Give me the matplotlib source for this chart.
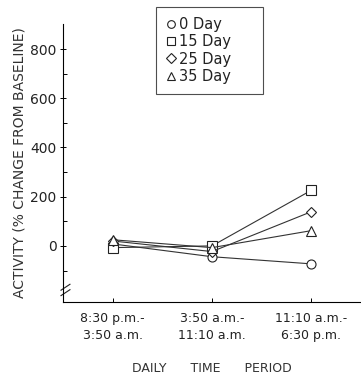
import matplotlib
matplotlib.use("Agg")
from matplotlib import pyplot as plt

periods = ["8:30 p.m.-\n3:50 a.m.", "3:50 a.m.-\n11:10 a.m.", "11:10 a.m.-\n6:30 p.m."]
day_0 = [8, -44, -73]
day_15 = [-7, 0, 226]
day_25 = [20, -23, 139]
day_35 = [25, -7, 62]

series = [("0 Day", day_0, "o"), ("15 Day", day_15, "s"),
          ("25 Day", day_25, "D"), ("35 Day", day_35, "^")]

plt.rcParams['font.family'] = ['DejaVu Sans']
fig = plt.figure(figsize=(3.61, 3.74), dpi=100)
ax = fig.add_axes([0.1745, 0.1925, 0.8255, 0.7435])

x = list(range(len(periods)))
for label, vals, m in series:
    ms = 5.5 if m == "D" else 6.5
    ax.plot(x, vals, marker=m, color="#333333", lw=0.8, ms=ms,
            mfc="white", mec="#222222", mew=0.8, label=label)

ax.set_xlim(-0.5, 2.5)
ax.set_ylim(-228, 902)
ax.set_yticks([0, 200, 400, 600, 800])
ax.set_yticks([-100, 100, 300, 500, 700], minor=True)
ax.set_xticks(x)
ax.set_xticklabels(periods, fontsize=9, linespacing=1.45, color="#222222")
ax.tick_params(axis="y", labelsize=10, direction="inout", length=5, width=0.7, pad=2,
               labelcolor="#222222")
ax.tick_params(axis="y", which="minor", direction="in", length=3, width=0.7)
ax.tick_params(axis="x", direction="in", length=3, width=0.7, pad=7)
for s in ["top", "right"]:
    ax.spines[s].set_visible(False)
for s in ["left", "bottom"]:
    ax.spines[s].set_linewidth(0.8)

# axis break marks
for yb in [-168, -190]:
    ax.plot([-0.52, -0.43], [yb - 12, yb + 12], color="#222222", lw=0.8,
            transform=ax.transData, clip_on=False)

ax.set_ylabel("ACTIVITY (% CHANGE FROM BASELINE)", fontsize=10, labelpad=3, color="#333333")
ax.set_xlabel("DAILY      TIME      PERIOD", fontsize=9, labelpad=14, color="#333333")

x0, x1, y0, y1 = 156 / 361, 263 / 361, 1 - 93 / 374, 1 - 7 / 374
leg = fig.legend(loc="upper left", bbox_to_anchor=(x0, y0, x1 - x0, y1 - y0), mode="expand",
                 fontsize=10.5, frameon=True, fancybox=False, edgecolor="#222222",
                 handlelength=0.6, handletextpad=0.3, borderpad=0.7, labelspacing=0.15,
                 borderaxespad=0, markerscale=0.85)
leg.get_frame().set_linewidth(0.8)
for h in leg.legend_handles:
    h.set_linestyle("None")
for t in leg.get_texts():
    t.set_color("#222222")

fig.savefig("out.png", dpi=100)
